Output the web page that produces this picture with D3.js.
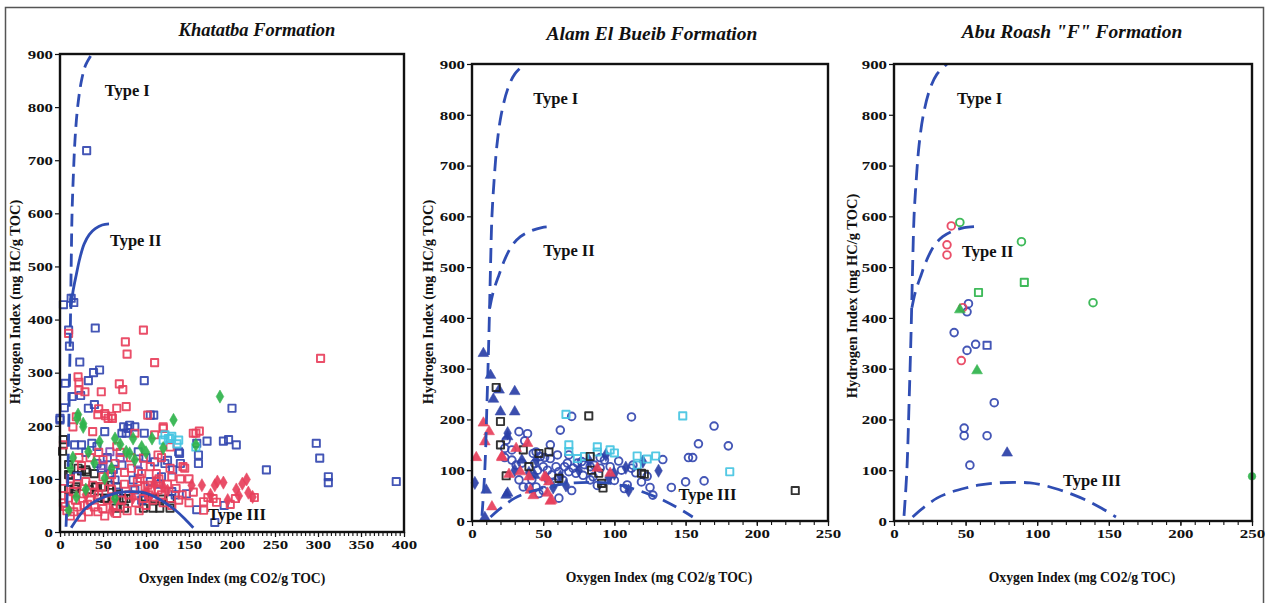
<!DOCTYPE html>
<html><head><meta charset="utf-8">
<script src="https://cdn.jsdelivr.net/npm/d3@7/dist/d3.min.js"></script>
<style>
html,body{margin:0;padding:0;background:#fff;}
svg{display:block;}
text{font-family:"Liberation Serif","Times New Roman",serif;}
</style></head>
<body>
<svg id="chart" width="1268" height="603"></svg>
<script>
// ---------------- DATA ----------------
const yTicks = [0,100,200,300,400,500,600,700,800,900];
const xTicksKhatatba = [0,50,100,150,200,250,300,350,400];
const xTicksOther = [0,50,100,150,200,250];
const panelTitles = ["Khatatba Formation", "Alam El Bueib Formation", "Abu Roash \"F\" Formation"];
const typeNames = ["Type I", "Type II", "Type III"];

// kerogen type boundary curves (OI, HI)
const typeICurve = [[7,10],[9,100],[10.5,230],[12,380],[13,500],[14,600],[15.5,670],[17.5,740],[20.5,800],[25,850],[30,880],[37,900]];
const typeIICurve = [[12.5,420],[15,452],[19,485],[23,515],[28,542],[34,560],[41,571],[49,578],[57,580]];
const typeIIICurve = [[13,8],[20,25],[30,45],[40,57],[50,65],[60,71],[72,75],[85,76],[95,75],[105,70],[115,62],[125,52],[135,40],[145,25],[155,8]];

// Khatatba Formation
const khatatbaBlueSq = [[31,718],[4,428],[13,440],[16,432],[41,384],[10,380],[11,350],[23,320],[6,280],[33,285],[39,300],[46,305],[98,285],[5,234],[24,257],[33,233],[40,240],[109,220],[105,220],[200,233],[52,189],[77,186],[87,198],[98,186],[171,171],[190,171],[196,174],[205,164],[298,167],[302,139],[312,104],[312,93],[391,95],[240,117],[159,167],[161,129],[161,145],[139,148],[180,18],[191,50],[147,72],[159,42],[17,164],[25,164],[37,167],[43,161],[74,198],[79,195],[81,201],[91,151],[72,186],[43,129],[72,126],[91,114],[110,132],[122,129],[140,129],[138,151],[118,104],[131,117],[64,98],[85,98],[87,79],[130,76],[134,70],[14,255],[30,150],[55,140],[62,118],[100,140],[105,95],[115,90],[125,135],[68,75],[95,60],[20,105],[48,120],[58,110],[0,211],[0,214]];
const khatatbaRedSq = [[97,380],[76,358],[78,335],[110,319],[303,327],[21,292],[22,282],[48,264],[69,279],[73,268],[22,267],[66,233],[77,236],[45,232],[44,221],[53,219],[60,218],[102,220],[120,195],[114,145],[158,186],[162,190],[143,123],[167,57],[178,63],[182,56],[204,63],[226,65],[167,41],[10,374],[29,264],[52,223],[56,214],[61,214],[19,217],[15,198],[120,198],[38,189],[87,186],[110,183],[128,160],[155,186],[4,164],[66,161],[97,139],[50,136],[64,129],[83,120],[105,123],[128,120],[112,110],[130,104],[145,120],[50,104],[93,101],[4,82],[15,76],[99,85],[106,79],[103,70],[110,66],[114,79],[118,70],[97,63],[108,60],[6,48],[8,40],[4,55],[20,47],[28,50],[40,47],[50,44],[62,50],[70,47],[33,38],[44,38],[12,30],[25,28],[35,60],[45,70],[55,60],[60,80],[75,90],[80,70],[88,55],[92,40],[120,55],[130,50],[138,60],[150,55],[155,75],[20,90],[30,95],[40,75],[12,100],[25,125],[35,140],[70,150],[82,140],[95,110],[140,100],[150,100],[115,100],[172,65],[198,52],[18,60],[27,72],[38,88],[48,85],[58,95],[72,60],[85,80],[90,95],[102,88],[112,95],[125,90],[135,82],[142,70],[16,38],[52,30],[66,35],[78,40],[10,64],[32,52],[100,50],[60,108],[75,112],[22,140],[45,150],[118,140]];
const khatatbaRedDia = [[153,88],[165,88],[180,88],[183,95],[190,93],[205,80],[212,91],[217,99],[208,68],[224,66],[219,74],[175,70],[195,60],[120,85],[100,75],[85,65],[60,40],[30,70],[110,90],[125,78]];
const khatatbaGreenDia = [[186,255],[132,211],[21,221],[27,204],[20,214],[27,198],[85,176],[107,176],[120,158],[33,151],[46,170],[64,176],[77,151],[81,148],[87,136],[12,120],[52,101],[19,66],[64,63],[10,41],[158,164],[95,160],[70,165],[40,130],[15,140],[100,150],[30,80],[60,120]];
const khatatbaCyanSq = [[122,183],[128,176],[138,173],[120,173],[126,176],[136,166],[130,180],[158,160]];
const khatatbaBlackSq = [[4,174],[3,152],[10,127],[10,108],[25,115],[31,113],[10,80],[17,81],[34,80],[42,85],[58,88],[44,64],[53,64],[62,64],[66,68],[65,45],[97,45],[116,45],[99,66],[118,62],[40,110],[21,120],[30,117],[12,107],[19,85],[41,85],[52,85],[66,85],[52,63],[74,63],[77,63],[110,63],[128,63],[75,45],[108,45],[128,45]];
const khatatbaPurpleSq = [[58,151],[70,140],[90,130],[50,125]];

// Alam El Bueib Formation
const alamBlueCircles = [[112,205],[70,206],[62,179],[33,176],[39,172],[170,187],[159,152],[180,148],[152,125],[155,125],[134,121],[150,77],[163,79],[140,66],[24,159],[37,158],[23,143],[23,125],[43,133],[45,136],[48,127],[51,125],[55,123],[28,120],[31,110],[35,114],[44,113],[46,100],[50,107],[53,100],[56,91],[59,107],[61,97],[65,107],[67,114],[68,97],[71,104],[73,94],[74,114],[77,117],[79,111],[83,107],[86,110],[90,104],[93,120],[97,107],[42,81],[40,67],[45,67],[47,54],[33,81],[36,67],[61,45],[85,87],[83,81],[68,130],[112,104],[113,110],[105,100],[119,77],[125,66],[127,51],[107,64],[109,71],[100,80],[78,90],[64,80],[58,75],[50,60],[88,70],[70,60],[115,95],[123,88],[103,118],[90,125],[60,130],[55,150],[28,140]];
const alamBlueDia = [[131,99],[94,130],[25,173],[2,75],[40,95],[52,85],[62,88],[75,100],[82,120],[100,93],[108,105],[120,117],[45,120],[30,100],[57,66],[66,70],[110,60],[96,85]];
const alamBlueTri = [[8,330],[13,287],[19,258],[30,255],[20,215],[30,215],[25,166],[25,55],[10,61],[9,7],[24,51],[15,240],[35,120],[44,90]];
const alamRedTri = [[8,193],[12,176],[9,156],[3,125],[21,127],[31,143],[39,153],[14,28],[26,92],[41,61],[43,50],[53,55],[55,39],[52,85],[88,104],[97,94],[56,41],[34,97],[40,87],[21,125],[51,87],[54,77]];
const alamBlackSq = [[17,263],[20,196],[20,150],[36,140],[54,136],[40,107],[24,89],[47,133],[61,84],[82,207],[83,127],[84,100],[89,94],[91,74],[92,65],[121,92],[227,60],[119,94]];
const alamCyanSq = [[66,210],[148,207],[68,150],[68,137],[79,127],[88,146],[97,140],[100,134],[116,128],[123,122],[129,128],[181,97],[116,110],[74,123],[88,136]];

// Abu Roash "F" Formation
const abuRedCircles = [[40,581],[37,544],[37,524],[47,316],[48,420]];
const abuGreenCircles = [[46,588],[89,550],[139,430]];
const abuGreenDot = [[250,88]];
const abuGreenSq = [[59,450],[91,470]];
const abuGreenTri = [[46,416],[58,296]];
const abuBlueCircles = [[52,428],[51,412],[42,371],[51,336],[57,348],[49,183],[49,168],[65,168],[53,110],[70,233]];
const abuBlueSq = [[65,346]];
const abuBlueTri = [[79,134]];

// label anchor points in data units (OI, HI) per panel
const typeLabelPos = [
  [[52,821],[58,538],[172,23]],
  [[43,821],[50,522],[145,41]],
  [[44,821],[47.5,520],[118,69]]
];

// ---------------- STYLE / LAYOUT ----------------
const BLUE = "#3448b0", RED = "#e8405c", GREEN = "#2fb44c", CYAN = "#45c4e2", BLACK = "#222", PURPLE = "#7b4db5", DBLUE = "#2b40a8";
const LINE = "#2f4db3";
const TICK_FONT = 13.5, TICK_SX = 1.25;

const panels = [
  { left:60, right:404, top:54, bottom:532, xMax:400, xTicks:xTicksKhatatba, minor:5,
    titleX:257, titleY:36, titleSize:18.5, yLabX:15, yLabY:302, xLabX:232, xLabY:583,
    curveDash:[ "13,7", null, null ],
    series:[
      {d:khatatbaBlackSq, c:BLACK, s:"square"},
      {d:khatatbaBlueSq, c:BLUE, s:"square"},
      {d:khatatbaPurpleSq, c:PURPLE, s:"square"},
      {d:khatatbaRedSq, c:RED, s:"square"},
      {d:khatatbaRedDia, c:RED, s:"diamond", f:true},
      {d:khatatbaCyanSq, c:CYAN, s:"square"},
      {d:khatatbaGreenDia, c:GREEN, s:"diamond", f:true}
    ]},
  { left:472, right:828, top:64, bottom:521, xMax:250, xTicks:xTicksOther, minor:10,
    titleX:652, titleY:40, titleSize:19.5, yLabX:428, yLabY:302, xLabX:659, xLabY:582,
    curveDash:[ "15,8", "15,8", "15,8" ],
    series:[
      {d:alamBlueCircles, c:BLUE, s:"circle"},
      {d:alamBlueDia, c:DBLUE, s:"diamond", f:true},
      {d:alamBlueTri, c:DBLUE, s:"triangle", f:true},
      {d:alamCyanSq, c:CYAN, s:"square"},
      {d:alamBlackSq, c:BLACK, s:"square"},
      {d:alamRedTri, c:RED, s:"triangle", f:true}
    ]},
  { left:894, right:1252, top:64, bottom:521, xMax:250, xTicks:xTicksOther, minor:10,
    titleX:1072, titleY:38, titleSize:19.5, yLabX:852, yLabY:296, xLabX:1082, xLabY:582,
    curveDash:[ "16,8", "16,8", "16,8" ],
    series:[
      {d:abuBlueCircles, c:BLUE, s:"circle"},
      {d:abuBlueSq, c:BLUE, s:"square"},
      {d:abuBlueTri, c:DBLUE, s:"triangle", f:true},
      {d:abuRedCircles, c:RED, s:"circle"},
      {d:abuGreenCircles, c:GREEN, s:"circle"},
      {d:abuGreenSq, c:GREEN, s:"square"},
      {d:abuGreenTri, c:GREEN, s:"triangle", f:true},
      {d:abuGreenDot, c:GREEN, s:"circle", f:true}
    ]}
];

const svg = d3.select("#chart");
svg.append("rect").attr("width",1268).attr("height",603).attr("fill","#fff");
// outer frame
svg.append("rect").attr("x",5.5).attr("y",7.5).attr("width",1258).attr("height",620)
  .attr("fill","none").attr("stroke","#555").attr("stroke-width",1.5);

const symType = {square:d3.symbolSquare, circle:d3.symbolCircle, diamond:d3.symbolDiamond, triangle:d3.symbolTriangle};
const symSize = {square:52, circle:46, diamond:50, triangle:50};

panels.forEach((p, i) => {
  const x = d3.scaleLinear().domain([0, p.xMax]).range([p.left, p.right]);
  const y = d3.scaleLinear().domain([0, 900]).range([p.bottom, p.top]);
  const g = svg.append("g");

  // title
  g.append("text").attr("x", p.titleX).attr("y", p.titleY).attr("text-anchor","middle")
    .attr("font-size", p.titleSize).attr("font-weight","bold").attr("font-style","italic").attr("fill","#111")
    .text(panelTitles[i]);

  // y axis
  const ya = g.append("g").attr("transform", `translate(${p.left},0)`)
    .call(d3.axisLeft(y).tickValues(yTicks).tickSize(5).tickPadding(2));
  ya.select(".domain").remove();
  ya.selectAll("line").attr("stroke","#111").attr("stroke-width",1.2);
  ya.selectAll("text").attr("font-size",TICK_FONT).attr("font-weight","bold").attr("fill","#111")
    .attr("x", null).attr("transform", `translate(-7,0) scale(${TICK_SX},1)`)
    .style("font-family",'"Liberation Serif",serif');

  // x axis minor ticks
  const minorVals = d3.range(0, p.xMax + 0.001, p.minor);
  const xm = g.append("g").attr("transform", `translate(0,${p.bottom})`)
    .call(d3.axisBottom(x).tickValues(minorVals).tickSize(4).tickFormat(""));
  xm.select(".domain").remove();
  xm.selectAll("line").attr("stroke","#111").attr("stroke-width",1.1);
  // x axis major ticks + labels
  const xa = g.append("g").attr("transform", `translate(0,${p.bottom})`)
    .call(d3.axisBottom(x).tickValues(p.xTicks).tickSize(5).tickPadding(2));
  xa.select(".domain").remove();
  xa.selectAll("line").attr("stroke","#111").attr("stroke-width",1.2);
  xa.selectAll("text").attr("font-size",TICK_FONT).attr("font-weight","bold").attr("fill","#111")
    .attr("transform", `scale(${TICK_SX},1)`)
    .style("font-family",'"Liberation Serif",serif');

  // axis titles
  g.append("text").attr("transform", `translate(${p.yLabX},${p.yLabY}) rotate(-90)`)
    .attr("text-anchor","middle").attr("dy","0.35em").attr("font-size",14.5).attr("font-weight","bold").attr("fill","#111")
    .text("Hydrogen Index (mg HC/g TOC)");
  g.append("text").attr("x", p.xLabX).attr("y", p.xLabY).attr("text-anchor","middle")
    .attr("font-size",13.7).attr("font-weight","bold").attr("fill","#111")
    .text("Oxygen Index (mg CO2/g TOC)");

  // markers
  p.series.forEach(s => {
    const sym = d3.symbol().type(symType[s.s]).size(symSize[s.s]);
    g.append("g").selectAll("path").data(s.d).join("path")
      .attr("transform", d => `translate(${x(d[0])},${y(d[1])})`)
      .attr("d", sym)
      .attr("fill", s.f ? s.c : "none")
      .attr("stroke", s.c)
      .attr("stroke-width", s.f ? 0.6 : 1.9)
      .attr("stroke-linejoin","round")
      .attr("opacity", 0.92);
  });

  // type curves
  const line = d3.line().x(d => x(d[0])).y(d => y(d[1])).curve(d3.curveCatmullRom.alpha(0.5));
  [typeICurve, typeIICurve, typeIIICurve].forEach((c, k) => {
    const path = g.append("path").attr("d", line(c)).attr("fill","none")
      .attr("stroke", LINE).attr("stroke-width", 2.8).attr("stroke-linecap","butt");
    if (p.curveDash[k]) path.attr("stroke-dasharray", p.curveDash[k]);
  });

  // type labels
  typeLabelPos[i].forEach((pos, k) => {
    g.append("text").attr("x", x(pos[0])).attr("y", y(pos[1]))
      .attr("font-size",16.5).attr("font-weight","bold").attr("fill","#111")
      .text(typeNames[k]);
  });

  // plot frame
  g.append("rect").attr("x", p.left).attr("y", p.top)
    .attr("width", p.right - p.left).attr("height", p.bottom - p.top)
    .attr("fill","none").attr("stroke","#111").attr("stroke-width",2.4);
});
</script>
</body></html>
